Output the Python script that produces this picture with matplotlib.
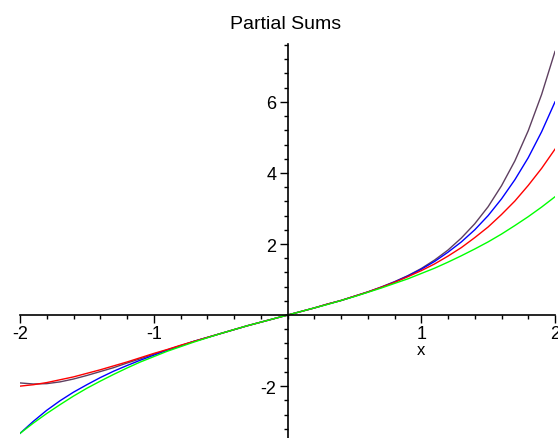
import matplotlib; matplotlib.use('Agg')
import matplotlib.pyplot as pl
import numpy as np
from matplotlib.ticker import FixedLocator, MultipleLocator

pl.rcParams['font.family'] = ['Liberation Sans', 'DejaVu Sans']
pl.rcParams['axes.unicode_minus'] = False

# values, x step 0.1
x = [-2.0, -1.9, -1.8, -1.7, -1.6, -1.5, -1.4, -1.3, -1.2, -1.1, -1.0,
     -0.9, -0.8, -0.7, -0.6, -0.5, -0.4, -0.3, -0.2, -0.1, 0.0,
     0.1, 0.2, 0.3, 0.4, 0.5, 0.6, 0.7, 0.8, 0.9, 1.0,
     1.1, 1.2, 1.3, 1.4, 1.5, 1.6, 1.7, 1.8, 1.9, 2.0]
s6 = [-1.91, -1.94, -1.93, -1.88, -1.80, -1.70, -1.59, -1.48, -1.35, -1.23, -1.10,
      -0.98, -0.86, -0.74, -0.63, -0.52, -0.41, -0.30, -0.20, -0.10, 0.0,
      0.10, 0.20, 0.31, 0.41, 0.53, 0.65, 0.79, 0.94, 1.11, 1.31,
      1.55, 1.83, 2.17, 2.57, 3.05, 3.64, 4.34, 5.19, 6.21, 7.42]
s5 = [-3.33, -2.99, -2.68, -2.41, -2.17, -1.96, -1.76, -1.58, -1.42, -1.27, -1.13,
      -0.99, -0.87, -0.74, -0.63, -0.52, -0.41, -0.30, -0.20, -0.10, 0.0,
      0.10, 0.20, 0.31, 0.41, 0.53, 0.65, 0.78, 0.93, 1.10, 1.29,
      1.51, 1.77, 2.06, 2.40, 2.80, 3.27, 3.81, 4.43, 5.16, 6.00]
s4 = [-2.00, -1.96, -1.90, -1.82, -1.74, -1.64, -1.54, -1.43, -1.32, -1.20, -1.08,
      -0.97, -0.85, -0.74, -0.63, -0.52, -0.41, -0.30, -0.20, -0.10, 0.0,
      0.10, 0.20, 0.31, 0.41, 0.53, 0.65, 0.78, 0.92, 1.08, 1.25,
      1.44, 1.66, 1.90, 2.18, 2.48, 2.83, 3.21, 3.65, 4.13, 4.67]
s3 = [-3.33, -3.04, -2.77, -2.52, -2.28, -2.06, -1.86, -1.67, -1.49, -1.32, -1.17,
      -1.02, -0.89, -0.76, -0.64, -0.52, -0.41, -0.30, -0.20, -0.10, 0.0,
      0.10, 0.20, 0.30, 0.41, 0.52, 0.64, 0.76, 0.89, 1.02, 1.17,
      1.32, 1.49, 1.67, 1.86, 2.06, 2.28, 2.52, 2.77, 3.04, 3.33]

xticks = [-2, -1, 1, 2]
yticks = [-2, 2, 4, 6]

fig = pl.figure(figsize=(5.58, 4.39), dpi=100)
ax = fig.add_axes([20/558., 0.0, 535/558., 394/439.])

ax.plot(x, s6, color='#5e3f60', linewidth=1.0)
ax.plot(x, s5, color='#0000ff', linewidth=1.0)
ax.plot(x, s4, color='#ff0000', linewidth=1.0)
ax.plot(x, s3, color='#00ff00', linewidth=1.0)

ax.set_xlim(-2, 2)
ax.set_ylim(-3.46, 7.63)

for side in ['top', 'right']:
    ax.spines[side].set_visible(False)
ax.spines['left'].set_position(('data', 0))
ax.spines['bottom'].set_position(('data', 0))
ax.spines['left'].set_linewidth(1.2)
ax.spines['bottom'].set_linewidth(1.2)

ax.xaxis.set_major_locator(FixedLocator(xticks))
ax.yaxis.set_major_locator(FixedLocator(yticks))
ax.xaxis.set_minor_locator(MultipleLocator(0.2))
ax.yaxis.set_minor_locator(MultipleLocator(0.4))
ax.set_xticklabels([str(t) for t in xticks])
ax.set_yticklabels([str(t) for t in yticks])
ax.tick_params(which='major', direction='out', length=6, width=1.0, labelsize=13, pad=1)
ax.tick_params(which='minor', direction='out', length=3, width=1.0)
ax.tick_params(axis='y', which='major', pad=2)

ax.annotate('x', xy=(1, 0), xytext=(0, -25), textcoords='offset points',
            ha='center', va='center', fontsize=12)
fig.text(286/558., 1 - 29/439., 'Partial Sums', ha='center', va='baseline', fontsize=14)

fig.savefig('out.png', dpi=100)
